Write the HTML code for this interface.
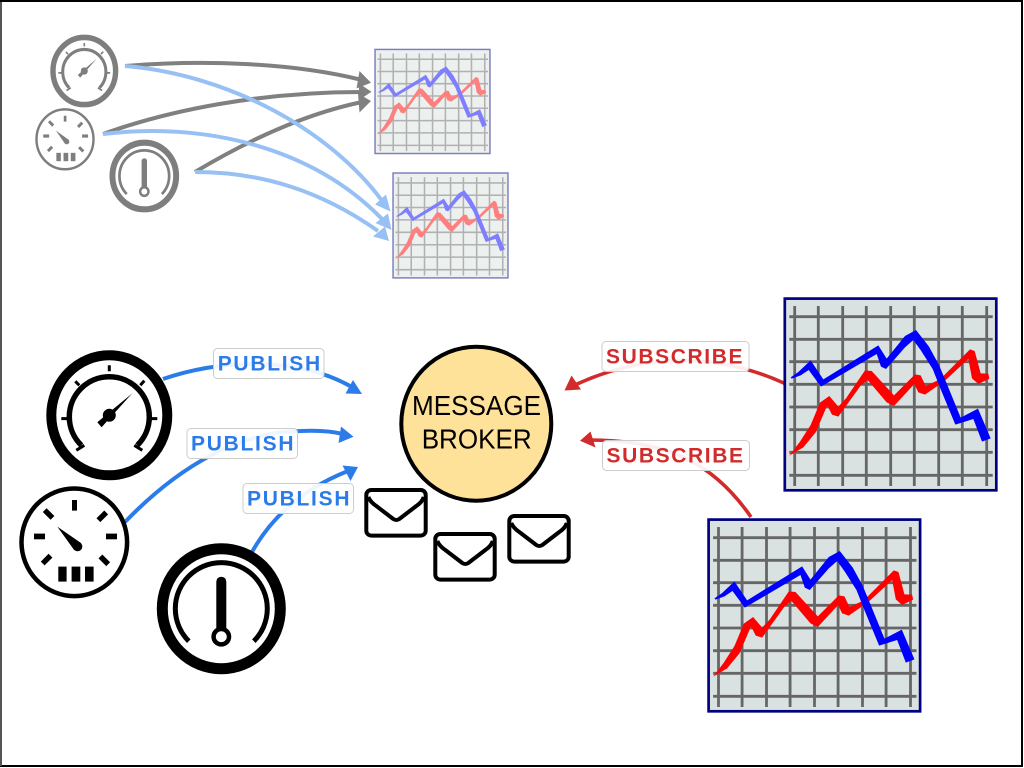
<!DOCTYPE html>
<html lang="en">
<head>
<meta charset="utf-8">
<title>Message Broker</title>
<style>
html,body{margin:0;padding:0;background:#fff;width:1024px;height:768px;overflow:hidden}
svg{display:block}
text{font-family:"Liberation Sans",sans-serif}
.lb{font-size:21px;font-weight:bold;letter-spacing:0}
.box{fill:#fff;fill-opacity:.92;stroke:#ccc;stroke-width:1}
</style>
</head>
<body>
<svg width="1024" height="768" viewBox="0 0 1024 768" xmlns="http://www.w3.org/2000/svg">
<defs>
  <g id="chart">
    <rect x=".8" y=".6" width="211.5" height="191.7" fill="#dae2e1" stroke="#000080" stroke-width="2.7"/>
    <g stroke="#666" stroke-width="2.8" fill="none">
      <path d="M10.7 8V188M34.3 8V188M58.7 8V188M82.3 8V188M106.7 8V188M130.3 8V188M154.7 8V188M178.3 8V188M202.7 8V188"/>
      <path d="M5.3 18.7H208.7M5.3 41.3H208.7M5.3 63.7H208.7M5.3 86.3H208.7M5.3 109H208.7M5.3 131.7H208.7M5.3 154.3H208.7M5.3 177.3H208.7"/>
    </g>
    <g transform="translate(-14,-8) scale(.33333)">
      <polygon fill="#f00" points="58,497 90,455 122,405 150,338 178,318 205,350 228,325 285,241 305,243 372,316 435,253 452,256 467,288 510,268 600,178 614,183 632,250 655,251 658,266 625,282 606,265 595,207 525,272 465,314 445,307 433,282 372,348 350,337 293,270 272,287 205,380 186,374 172,347 167,357 137,427 100,472"/>
      <polygon fill="#00f" points="62,262 85,246 122,211 160,268 325,166 350,206 405,138 438,120 477,170 507,225 532,285 572,383 624,356 662,445 636,455 610,387 556,404 513,300 488,237 453,182 430,150 405,172 348,237 333,230 320,192 153,290 116,240 92,256 65,266"/>
    </g>
  </g>

  <g id="g1">
    <ellipse cx="0" cy="0" rx="58" ry="60" fill="#fff" stroke="#000" stroke-width="10"/>
    <path d="M-28 30A40 40 0 1 1 28 30" fill="none" stroke="#000" stroke-width="5.5"/>
    <path d="M0 -50V-44M-34 -34L-30 -30M35 -34.5L31 -30M-48 3.3H-42M48 3.3H42M-33 35L-25 30M33 35L25 30" stroke="#000" stroke-width="3" fill="none"/>
    <circle cx="0" cy="0" r="6.5" fill="#000"/>
    <polygon points="23,-22 -12,7 -7.7,12" fill="#000"/>
  </g>

  <g id="g2">
    <ellipse cx="0" cy="0" rx="52.8" ry="53.8" fill="#fff" stroke="#000" stroke-width="4.5"/>
    <g fill="#000">
      <rect x="-2.3" y="-42.3" width="5" height="10.6"/>
      <rect x="-40.3" y="-8.7" width="11" height="5.7"/>
      <rect x="31.7" y="-8.7" width="11" height="5.7"/>
      <rect x="-5.5" y="-2.7" width="11" height="5.4" transform="translate(-25.7,-28.3) rotate(45)"/>
      <rect x="-5.5" y="-2.7" width="11" height="5.4" transform="translate(28,-26) rotate(-45)"/>
      <rect x="-5.5" y="-2.7" width="11" height="5.4" transform="translate(-27.7,17.3) rotate(-45)"/>
      <rect x="-5.5" y="-2.7" width="11" height="5.4" transform="translate(30,18) rotate(45)"/>
      <rect x="-16" y="24.3" width="8.3" height="15"/>
      <rect x="-2.7" y="24.3" width="8.7" height="15"/>
      <rect x="10.7" y="24.3" width="8.6" height="15"/>
      <circle cx="3.3" cy="4.3" r="4.7"/>
      <polygon points="-17,-15.7 7,1 0,8"/>
    </g>
  </g>

  <g id="g3">
    <ellipse cx="0" cy="0" rx="59" ry="60" fill="#fff" stroke="#000" stroke-width="11"/>
    <path d="M-32.5 32.5A46 46 0 1 1 32.5 32.5" fill="none" stroke="#000" stroke-width="5"/>
    <rect x="-5" y="-32" width="10" height="56" rx="5" fill="#000"/>
    <circle cx="0" cy="28" r="7.7" fill="#fff" stroke="#000" stroke-width="4.5"/>
  </g>

  <g id="env">
    <rect x="2" y="2" width="59.4" height="45.6" rx="5" fill="#fff" stroke="#000" stroke-width="4"/>
    <path d="M4 9Q6 14 12 18L29 31Q32 33 35 31L52 18Q58 14 59.5 9" fill="none" stroke="#000" stroke-width="4" stroke-linejoin="round"/>
  </g>
</defs>

<rect width="1024" height="768" fill="#fff"/>

<!-- Top section: tangled point-to-point -->
<g opacity=".5">
  <use href="#g1" transform="translate(84.3,71) scale(.54,.56)"/>
  <use href="#g2" transform="translate(65,139.3) scale(.54,.557)"/>
  <use href="#g3" transform="translate(144.3,176) scale(.54,.556)"/>
</g>
<g opacity=".5">
  <use href="#chart" transform="translate(374.6,49.1) scale(.5434,.543)"/>
</g>
<g opacity=".5">
  <use href="#chart" transform="translate(392.6,172.7) scale(.5434,.547)"/>
</g>

<g fill="none" stroke="#808080" stroke-width="4">
  <path d="M125 66C200 60 290 62 362 80"/>
  <path d="M103 134C170 110 260 92 362 92"/>
  <path d="M195 172C240 145 300 115 362 102"/>
</g>
<g fill="#808080">
  <polygon points="371,82.7 359.5,71 356.5,88.5"/>
  <polygon points="371.5,91.7 359,83.5 359,100"/>
  <polygon points="371,101 358,93.5 359.5,112.5"/>
</g>
<g fill="none" stroke="#97c0f4" stroke-width="4">
  <path d="M125 66C230 75 330 130 383 202"/>
  <path d="M103 134C200 122 310 145 382 219"/>
  <path d="M195 172C260 172 320 190 378 231"/>
</g>
<g fill="#97c0f4">
  <polygon points="390.5,211.5 386,194.5 375,204.5"/>
  <polygon points="391.5,230 388,213.5 375.5,223"/>
  <polygon points="389,241 385,226.5 373,236.5"/>
</g>

<!-- Bottom section connectors -->
<g fill="none" stroke="#2b7ce9" stroke-width="4">
  <path d="M163 379C225 358 300 358 350 386"/>
  <path d="M125 522C180 465 240 432 300 431C320 430 335 432 343 434"/>
  <path d="M252 552C270 520 300 490 348 471"/>
</g>
<g fill="#2b7ce9">
  <polygon points="362,394 353,380 345.500,393.500"/>
  <polygon points="353.500,436.700 341,426.500 338.500,443"/>
  <polygon points="358,467 342.500,465.500 350.500,481"/>
</g>
<g fill="none" stroke="#d12b2b" stroke-width="3.6">
  <path d="M788 385C725 355 650 350 575 385"/>
  <path d="M751 517C715 465 670 440 590 440"/>
</g>
<g fill="#d12b2b">
  <polygon points="564.5,390.5 571.5,375.5 581,389.5"/>
  <polygon points="580,440.7 590.5,431.5 595.5,447.5"/>
</g>

<!-- Gauges -->
<use href="#g1" transform="translate(109.3,415.3)"/>
<use href="#g2" transform="translate(74.3,542.3)"/>
<use href="#g3" transform="translate(221.3,608.7)"/>

<!-- Broker -->
<ellipse cx="476.3" cy="423.7" rx="75" ry="77" fill="#ffe299" stroke="#000" stroke-width="4"/>
<text x="412" y="415" font-size="28" textLength="129" lengthAdjust="spacingAndGlyphs" fill="#000">MESSAGE</text>
<text x="421.7" y="448.5" font-size="28" textLength="110" lengthAdjust="spacingAndGlyphs" fill="#000">BROKER</text>

<!-- Envelopes -->
<use href="#env" transform="translate(364.3,488)"/>
<use href="#env" transform="translate(433.3,532)"/>
<use href="#env" transform="translate(507.3,514)"/>

<!-- Charts -->
<use href="#chart" transform="translate(784,298)"/>
<use href="#chart" transform="translate(707.8,519)"/>

<!-- Labels -->
<g fill="#2b7ce9">
  <rect class="box" x="213.5" y="348.5" width="110.5" height="30" rx="4"/>
  <text class="lb" x="217.7" y="370.7" textLength="102.5" lengthAdjust="spacing">PUBLISH</text>
  <rect class="box" x="187" y="428.5" width="110.5" height="30" rx="4"/>
  <text class="lb" x="191" y="450.7" textLength="102.5" lengthAdjust="spacing">PUBLISH</text>
  <rect class="box" x="243" y="483.5" width="110.5" height="30" rx="4"/>
  <text class="lb" x="247" y="505.7" textLength="102.5" lengthAdjust="spacing">PUBLISH</text>
</g>
<g fill="#d12b2b">
  <rect class="box" x="602" y="341.5" width="147" height="30" rx="4"/>
  <text class="lb" x="606" y="363.5" textLength="136.5" lengthAdjust="spacing">SUBSCRIBE</text>
  <rect class="box" x="602.5" y="440.5" width="147" height="30" rx="4"/>
  <text class="lb" x="606.5" y="462.5" textLength="136.5" lengthAdjust="spacing">SUBSCRIBE</text>
</g>

<!-- Frame -->
<rect x="1" y="1" width="1021" height="765" fill="none" stroke="#000" stroke-width="2"/>
<rect x="0" y="2" width="2" height="764" fill="#555"/>
</svg>
</body>
</html>
